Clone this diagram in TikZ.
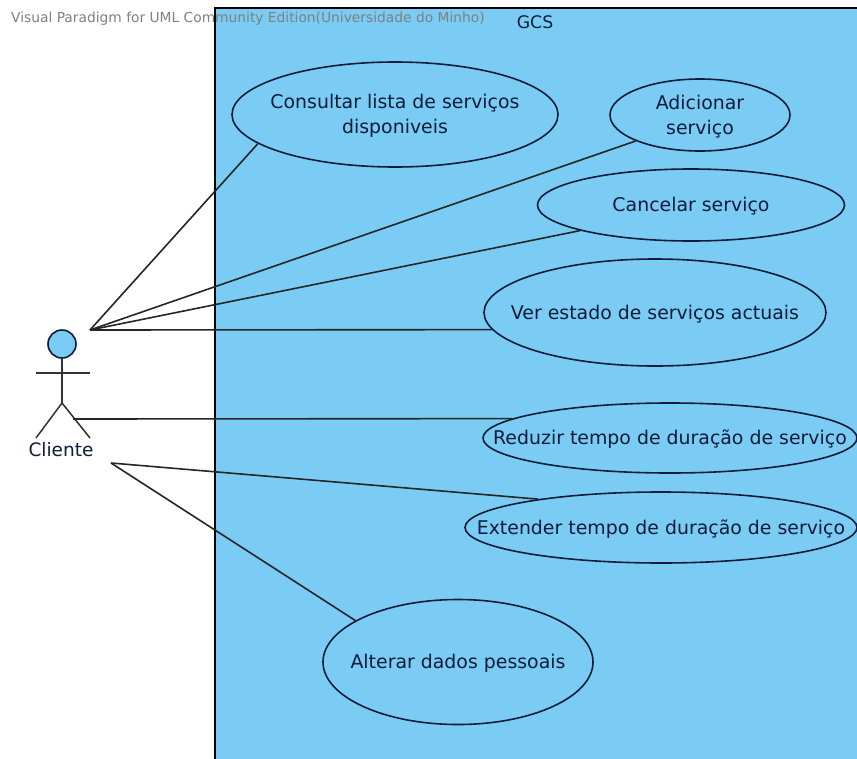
\documentclass[tikz,border=0pt]{standalone}
\usepackage{fontspec}
\setmainfont{DejaVu Sans}
\definecolor{sysblue}{HTML}{7ACCF5}
\definecolor{inkc}{HTML}{101C38}
\newcommand{\ufs}{\fontsize{18.9}{25}\selectfont}
\newcommand{\uct}[1]{\vbox{\kern3.6pt\hbox{\begin{tabular}{@{}c@{}}#1\end{tabular}}}}
\usetikzlibrary{shapes.geometric}
\tikzset{
  usecase/.style={ellipse,draw=inkc,line width=1.6pt,fill=sysblue,inner xsep=-50pt,inner ysep=-8pt,text=inkc,font=\ufs},
  assoc/.style={draw=black!85,line width=1.6pt},
  stick/.style={draw=black!80,line width=1.5pt},
}
\begin{document}
\begin{tikzpicture}[x=1pt,y=-1pt]
\useasboundingbox (0,0) rectangle (857,758);
\fill[white] (0,0) rectangle (857,758);
\node[draw=black,line width=1.6pt,fill=sysblue,minimum width=660pt,minimum height=770pt,inner sep=0pt,outer sep=0pt,anchor=north west] (sys) at (215,8) {};
\begin{scope}
\clip (0,0) rectangle (857,758);
\node[usecase,minimum width=326pt,minimum height=105pt] (u1) at (395,114.5) {\uct{Consultar lista de serviços\\disponiveis}};
\node[usecase,minimum width=180pt,minimum height=72pt] (u2) at (700,115) {\uct{Adicionar\\serviço}};
\node[usecase,minimum width=307pt,minimum height=72pt] (u3) at (691,205) {\uct{Cancelar serviço}};
\node[usecase,minimum width=342pt,minimum height=107pt] (u4) at (655,312.5) {\uct{Ver estado de serviços actuais}};
\node[usecase,minimum width=374pt,minimum height=70pt] (u5) at (670,438) {\uct{Reduzir tempo de duração de serviço}};
\node[usecase,minimum width=392pt,minimum height=71pt] (u6) at (661,527.5) {\uct{Extender tempo de duração de serviço}};
\node[usecase,minimum width=270pt,minimum height=125pt] (u7) at (458,662) {\uct{Alterar dados pessoais}};
\end{scope}
\node[font=\fontsize{17.3}{20}\selectfont,text=inkc,inner sep=0pt] (gcs) at (535,22) {GCS};
\node[font=\fontsize{13.8}{16}\selectfont,text=black!50,inner sep=0pt,anchor=west] (wm) at (11,19) {Visual Paradigm for UML Community Edition(Universidade do Minho)};
% actor
\node[circle,draw=inkc,line width=1.6pt,fill=sysblue,minimum size=28pt,inner sep=0pt] (head) at (62,344) {};
\coordinate (hip) at (62,403);
\coordinate (armL) at (36,373);
\coordinate (armR) at (90,373);
\coordinate (legL) at (36,438);
\coordinate (legR) at (90,438);
\draw[stick] (head) -- (hip);
\draw[stick] (armL) -- (armR);
\draw[stick] (legL) -- (hip) -- (legR);
\node[font=\fontsize{18.5}{20}\selectfont,text=inkc,inner sep=0pt] (cliente) at (61,450) {Cliente};
\coordinate (a1) at (90,330);
\coordinate (a2) at (73,419);
\coordinate (a3) at (111,463);
\draw[assoc] (a1) -- (u1.192.5);
\draw[assoc] (a1) -- (u2.202.4);
\draw[assoc] (a1) -- (u3.193.5);
\draw[assoc] (a1) -- (u4.186);
\draw[assoc] (a2) -- (u5.173.6);
\draw[assoc] (a3) -- (u6.167.4);
\draw[assoc] (a3) -- (u7.158.3);
\end{tikzpicture}
\end{document}
